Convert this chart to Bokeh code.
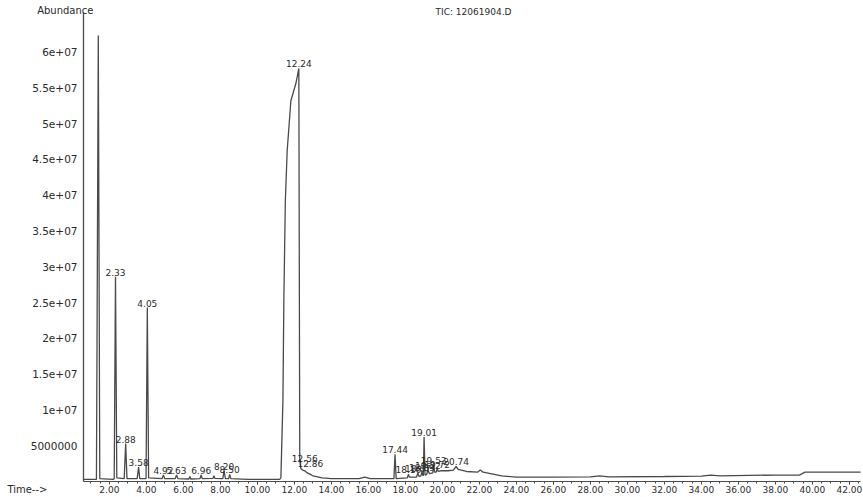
from bokeh.plotting import figure
from bokeh.models import Range1d, FixedTicker, Label, ColumnDataSource
from bokeh.core.properties import value
from bokeh.embed import file_html
from bokeh.resources import INLINE

# Retention time (min) and abundance (millions of counts) of the TIC trace
rt = [0.6, 1.30, 1.40, 1.48, 2.20, 2.26, 2.33, 2.40, 2.80, 2.88, 2.95,
      3.50, 3.58, 3.64, 3.98, 4.05, 4.12, 4.85, 4.92, 4.99, 5.56, 5.63, 5.70,
      6.30, 6.35, 6.40, 6.90, 6.96, 7.02, 7.60, 7.65, 7.70, 8.13, 8.20, 8.27,
      8.45, 8.50, 8.56, 9.50, 11.20, 11.27, 11.38, 11.43, 11.51, 11.61, 11.81,
      12.08, 12.24, 12.29, 12.35, 12.45, 12.56, 12.70, 12.86, 13.00, 13.50,
      14.00, 15.50, 15.80, 16.10, 17.38, 17.44, 17.50, 18.10, 18.16, 18.22,
      18.60, 18.67, 18.74, 18.84, 18.89, 18.94, 18.97, 19.01, 19.06, 19.15,
      19.22, 19.30, 19.48, 19.53, 19.58, 19.66, 19.72, 19.78, 19.90, 20.30,
      20.60, 20.74, 20.85, 21.30, 21.90, 22.05, 22.20, 22.60, 23.20, 24.00,
      26.00, 28.00, 28.50, 29.00, 32.00, 34.00, 34.50, 35.00, 38.00, 39.30,
      39.60, 42.60]
abund = [0.3, 0.3, 62.3, 0.4, 0.3, 0.4, 28.6, 0.5, 0.4, 5.3, 0.4,
         0.4, 2.0, 0.4, 0.4, 24.3, 0.5, 0.4, 0.9, 0.4, 0.4, 0.9, 0.4,
         0.35, 0.7, 0.35, 0.4, 0.9, 0.4, 0.45, 0.8, 0.45, 0.4, 1.5, 0.4,
         0.4, 1.0, 0.4, 0.3, 0.3, 0.5, 11.3, 25.3, 39.2, 46.2, 53.2,
         55.6, 57.7, 3.0, 1.8, 1.6, 1.5, 1.2, 1.0, 0.8, 0.5,
         0.4, 0.4, 0.6, 0.4, 0.4, 3.8, 0.4, 0.5, 1.0, 0.6,
         0.6, 1.2, 0.7, 0.8, 1.3, 0.9, 0.8, 6.2, 0.9, 1.0,
         1.6, 1.1, 1.2, 2.3, 1.3, 1.3, 1.8, 1.4, 1.5, 1.5,
         1.6, 2.1, 1.7, 1.4, 1.3, 1.6, 1.3, 1.1, 0.8, 0.6,
         0.6, 0.65, 0.8, 0.65, 0.7, 0.75, 0.9, 0.8, 0.9, 0.9,
         1.3, 1.3]

# Peak annotations
peak_rt = [2.33, 2.88, 3.58, 4.05, 4.92, 5.63, 6.96, 8.20, 8.50, 12.24,
           12.56, 12.86, 17.44, 18.16, 18.67, 18.89, 19.01, 19.22, 19.53,
           19.72, 20.74]
peak_ab = [28.6, 5.3, 2.0, 24.3, 0.9, 0.9, 0.9, 1.5, 1.0, 57.7,
           2.6, 1.9, 3.8, 1.0, 1.2, 1.3, 6.2, 1.6, 2.3,
           1.8, 2.1]
peak_txt = ["2.33", "2.88", "3.58", "4.05", "4.92", "5.63", "6.96", "8.20",
            "8.50", "12.24", "12.56", "12.86", "17.44", "18.16", "18.67",
            "18.89", "19.01", "19.22", "19.53", "19.72", "20.74"]

# Axis ticks
x_ticks = [2, 4, 6, 8, 10, 12, 14, 16, 18, 20, 22, 24, 26, 28, 30, 32, 34,
           36, 38, 40, 42]
x_tick_labels = ["2.00", "4.00", "6.00", "8.00", "10.00", "12.00", "14.00",
                 "16.00", "18.00", "20.00", "22.00", "24.00", "26.00",
                 "28.00", "30.00", "32.00", "34.00", "36.00", "38.00",
                 "40.00", "42.00"]
y_ticks = [5, 10, 15, 20, 25, 30, 35, 40, 45, 50, 55, 60]
y_tick_labels = ["5000000", "1e+07", "1.5e+07", "2e+07", "2.5e+07", "3e+07",
                 "3.5e+07", "4e+07", "4.5e+07", "5e+07", "5.5e+07", "6e+07"]

# Axis extents (retention time / abundance) and header texts
t_axis = (0.6, 42.6)
a_axis = (0.0, 65.1)
title_text = "TIC: 12061904.D"
y_title = "Abundance"
x_title = "Time-->"

FONT = "DejaVu Sans"
INK = "#2a2a2a"
TRACE = "#4a4a4a"

# frame spans the whole canvas; axes are pinned inside it
p = figure(width=863, height=497, output_backend="svg", toolbar_location=None,
           x_range=Range1d(-3.886, 42.762), y_range=Range1d(-2.235, 67.198),
           min_border=0, min_border_left=0, min_border_right=0,
           min_border_top=0, min_border_bottom=0)
p.outline_line_color = None
p.xgrid.visible = False
p.ygrid.visible = False
p.background_fill_color = "white"
p.border_fill_color = "white"

# x axis
xa = p.xaxis[0]
xa.fixed_location = a_axis[0]
xa.bounds = t_axis
minor = [m / 2 for m in range(2, 86)]
xa.ticker = FixedTicker(ticks=x_ticks, minor_ticks=minor)
xa.major_label_overrides = {t: l for t, l in zip(x_ticks, x_tick_labels)}
xa.axis_line_color = TRACE
xa.major_tick_line_color = TRACE
xa.minor_tick_line_color = TRACE
xa.major_tick_in = 0
xa.major_tick_out = 3
xa.minor_tick_in = 0
xa.minor_tick_out = 2
xa.major_label_standoff = 1
xa.major_label_text_font = FONT
xa.major_label_text_font_size = "9px"
xa.major_label_text_color = INK

# y axis
ya = p.yaxis[0]
ya.fixed_location = t_axis[0]
ya.bounds = (a_axis[0], a_axis[1] + 0.4)
ya.ticker = FixedTicker(ticks=y_ticks)
ya.major_label_overrides = {t: l for t, l in zip(y_ticks, y_tick_labels)}
ya.axis_line_color = TRACE
ya.axis_line_width = 1.3
ya.major_tick_line_color = None
ya.minor_tick_line_color = None
ya.major_tick_in = 0
ya.major_tick_out = 0
ya.major_label_standoff = 6
ya.major_label_text_font = FONT
ya.major_label_text_font_size = "10.5px"
ya.major_label_text_color = INK

# trace
p.line(rt, abund, line_color=TRACE, line_width=1.3)

# peak labels
src = ColumnDataSource(dict(x=peak_rt, y=peak_ab, text=peak_txt))
p.text(x="x", y="y", text="text", source=src, text_font=value(FONT),
       text_font_size="9px", text_align="center", text_baseline="bottom",
       text_color=INK, y_offset=-1)

# header and footer texts
p.add_layout(Label(x=1.14, y=65.8, text=y_title, text_align="right",
                   text_baseline="middle",
                   text_font=FONT, text_font_size="10px", text_color=INK))
p.add_layout(Label(x=21.68, y=65.6, text=title_text,
                   text_align="center", text_baseline="middle",
                   text_font=FONT, text_font_size="9px", text_color=INK))
p.add_layout(Label(x=-2.43, y=-1.12, text=x_title,
                   text_align="center", text_baseline="middle",
                   text_font=FONT, text_font_size="10px", text_color=INK))

open("out.html", "w").write(file_html(p, INLINE))
